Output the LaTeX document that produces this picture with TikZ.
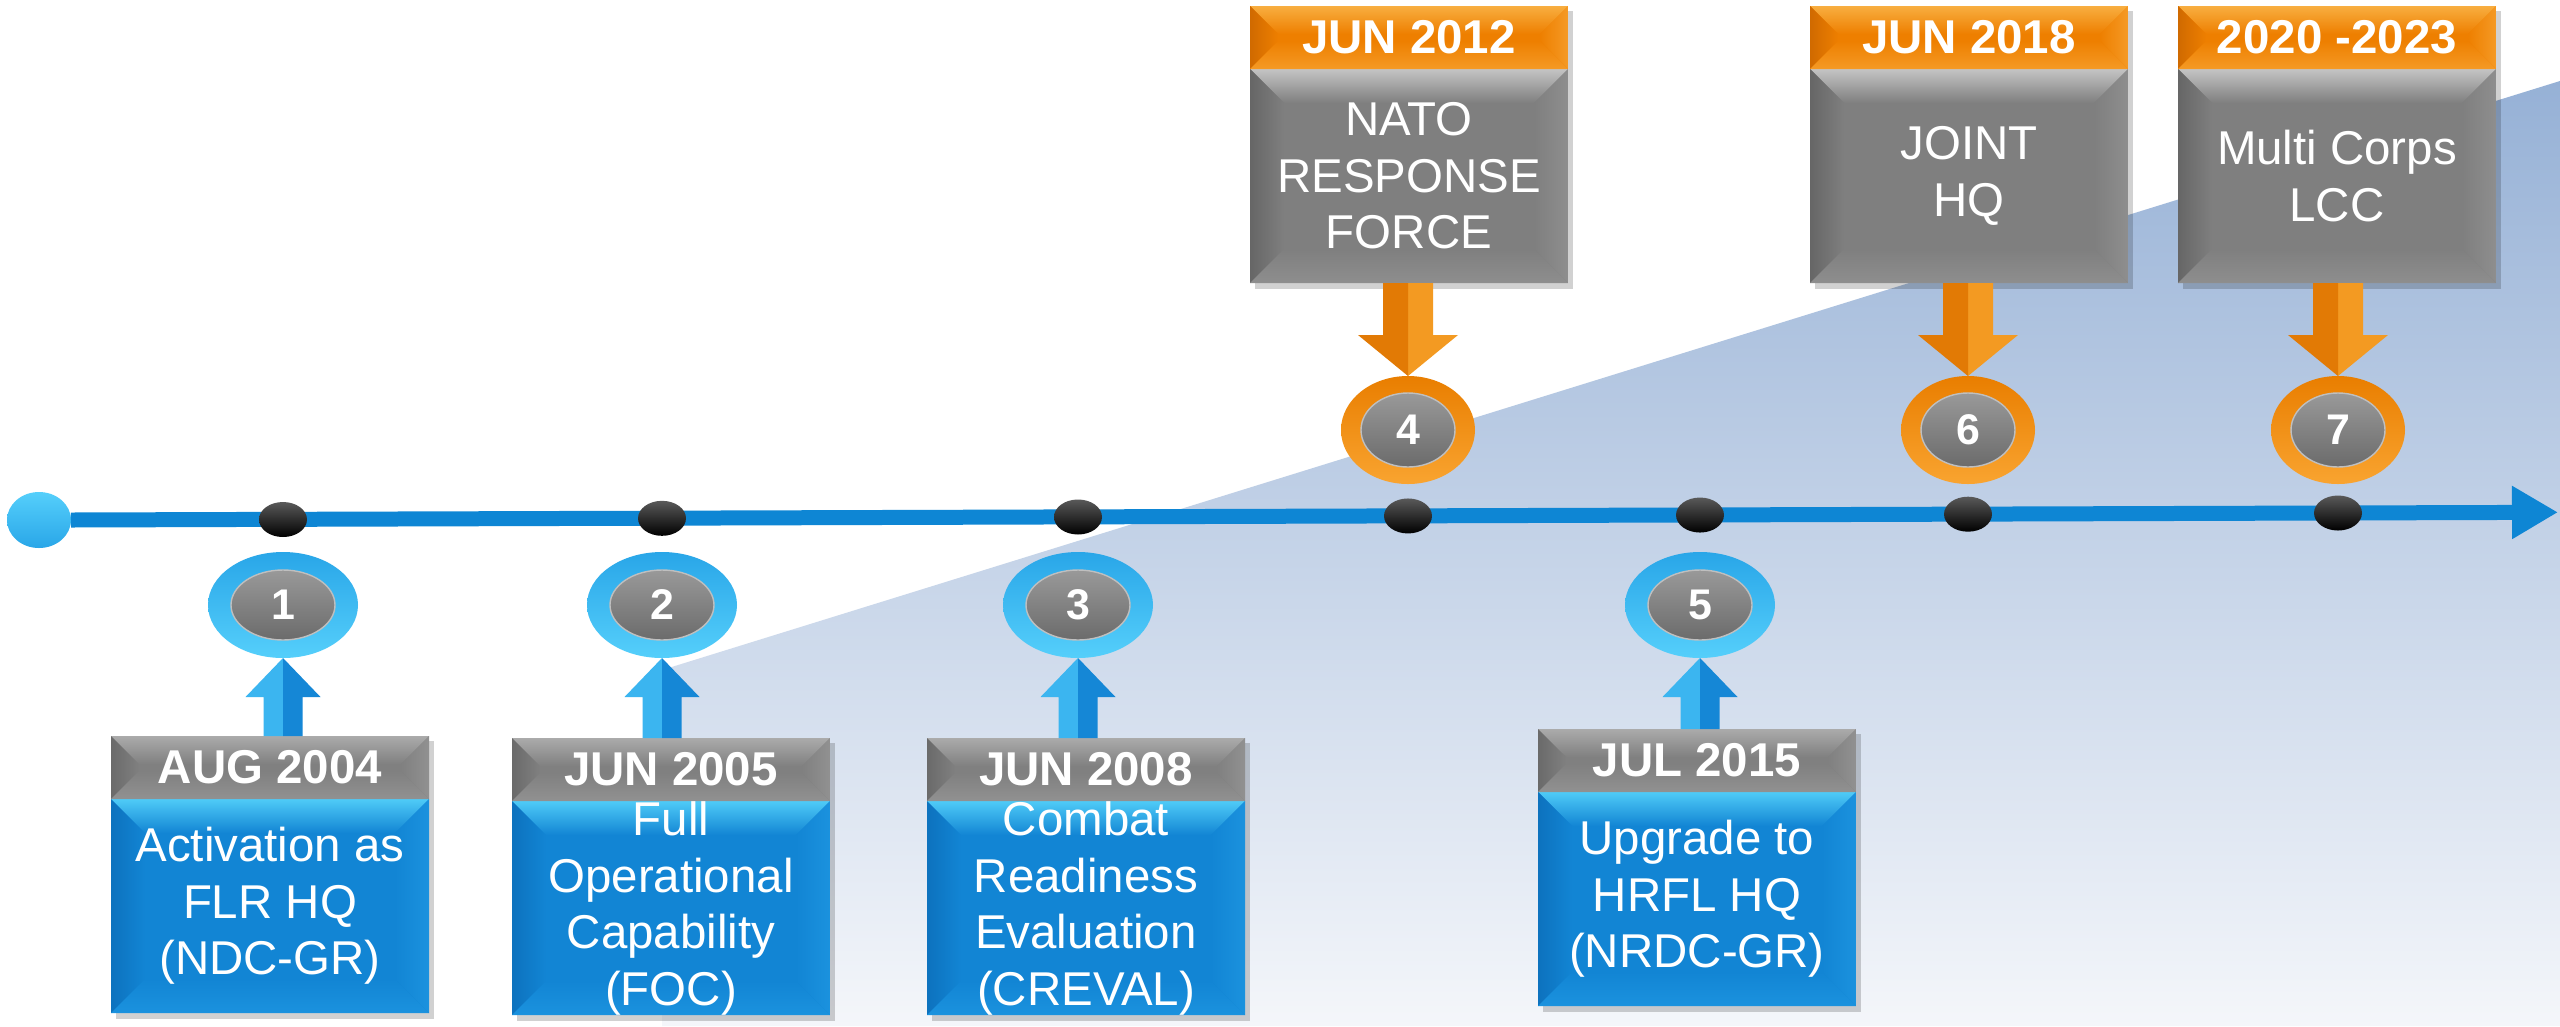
\documentclass[tikz,border=0pt]{standalone}
\usepackage{fontspec}
\setmainfont{Liberation Sans}
\usetikzlibrary{calc,positioning,shapes.geometric,arrows.meta,backgrounds}

\definecolor{lineblue}{HTML}{0E86D4}
\definecolor{wedgetop}{HTML}{96B1D6}
\definecolor{wedgebot}{HTML}{F4F6FA}
\definecolor{boxblue}{HTML}{1285D4}
\definecolor{boxbluetop}{HTML}{4FCBF7}
\definecolor{boxblueleft}{HTML}{0D72BE}
\definecolor{boxblueright}{HTML}{1B92DE}
\definecolor{boxgray}{HTML}{7F7F7F}
\definecolor{boxgraytop}{HTML}{C4C4C4}
\definecolor{boxgrayleft}{HTML}{666666}
\definecolor{boxgrayright}{HTML}{8E8E8E}
\definecolor{hdgray}{HTML}{808080}
\definecolor{hdgraytop}{HTML}{ABABAB}
\definecolor{hdgrayleft}{HTML}{6A6A6A}
\definecolor{hdgrayright}{HTML}{919191}
\definecolor{hdorange}{HTML}{EE7F00}
\definecolor{hdorangetop}{HTML}{F8AE40}
\definecolor{hdorangeleft}{HTML}{D06A00}
\definecolor{hdorangeright}{HTML}{F59A25}
\definecolor{ringbluetop}{HTML}{29A6E8}
\definecolor{ringbluebot}{HTML}{55CFFB}
\definecolor{ringorangetop}{HTML}{E97E00}
\definecolor{ringorangebot}{HTML}{F9A430}
\definecolor{arrowbluelight}{HTML}{3BB5F0}
\definecolor{arrowbluedark}{HTML}{1587D6}
\definecolor{arroworangelight}{HTML}{F39A22}
\definecolor{arroworangedark}{HTML}{E27A05}

\newcommand{\bodyfont}{\fontsize{13.5}{16.1}\selectfont}
\newcommand{\headfont}{\fontsize{13.5}{16.1}\selectfont\bfseries}
\newcommand{\numfont}{\fontsize{12.2}{14}\selectfont\bfseries}

% block arrow: from, to, shaft half, head half, head length, colour +90 side, colour -90 side
\newcommand{\blockarrow}[7]{%
\coordinate (ah) at ($(#2)!#5!(#1)$);
\fill[#6] (#1) -- ($(#1)!#3!90:(#2)$) -- ($(ah)!#3!90:(#2)$) -- ($(ah)!#4!90:(#2)$) -- (#2) -- (ah) -- cycle;
\fill[#7] (#1) -- ($(#1)!#3!-90:(#2)$) -- ($(ah)!#3!-90:(#2)$) -- ($(ah)!#4!-90:(#2)$) -- (#2) -- (ah) -- cycle;
}

\tikzset{
bevel/.style n args={5}{fill=#1,
  path picture={
  \coordinate (q1) at (path picture bounding box.north west);
  \coordinate (q2) at (path picture bounding box.north east);
  \coordinate (q3) at (path picture bounding box.south east);
  \coordinate (q4) at (path picture bounding box.south west);
  \shade[top color=#2, bottom color=#1] (q1) -- (q2) -- ($(q2)+(-#5,#5)$) -- ($(q1)+(#5,#5)$) -- cycle;
  \shade[left color=#3, right color=#1] (q1) -- ($(q1)+(#5,#5)$) -- ($(q4)+(#5,-#5)$) -- (q4) -- cycle;
  \shade[right color=#4, left color=#1] (q2) -- ($(q2)+(-#5,#5)$) -- ($(q3)+(-#5,-#5)$) -- (q3) -- cycle;
  \shade[bottom color=#4, top color=#1] (q4) -- ($(q4)+(#5,-#5)$) -- ($(q3)+(-#5,-#5)$) -- (q3) -- cycle;
  }},
boxcore/.style={inner xsep=0pt, inner ysep=-8pt, outer sep=0pt, minimum width=31.8mm, minimum height=21.4mm, text=white, align=center, font=\bodyfont},
headcore/.style={inner sep=0pt, outer sep=0pt, minimum width=31.8mm, minimum height=6.3mm, text=white, font=\headfont},
bodyblue/.style={rectangle, bevel={boxblue}{boxbluetop}{boxblueleft}{boxblueright}{34}, boxcore},
bodygray/.style={rectangle, bevel={boxgray}{boxgraytop}{boxgrayleft}{boxgrayright}{34}, boxcore},
headgray/.style={rectangle, bevel={hdgray}{hdgraytop}{hdgrayleft}{hdgrayright}{28}, headcore},
headorange/.style={rectangle, bevel={hdorange}{hdorangetop}{hdorangeleft}{hdorangeright}{28}, headcore},
ringblue/.style={ellipse, inner sep=0pt, outer sep=0pt, minimum width=15mm, minimum height=10.6mm, top color=ringbluetop, bottom color=ringbluebot},
ringorange/.style={ellipse, inner sep=0pt, outer sep=0pt, minimum width=13.4mm, minimum height=10.8mm, top color=ringorangetop, bottom color=ringorangebot},
numdisc/.style={ellipse, inner sep=0pt, top color=black!40, bottom color=black!58, draw=black!25, line width=0.4pt, text=white, font=\numfont},
numlow/.style={numdisc, minimum width=10.4mm, minimum height=7mm},
numhigh/.style={numdisc, minimum width=9.4mm, minimum height=7.4mm},
tick/.style={ellipse, inner sep=0pt, minimum width=4.8mm, minimum height=3.5mm, top color=black!65, bottom color=black},
startdot/.style={ellipse, inner sep=0pt, outer sep=0pt, minimum width=6.4mm, minimum height=5.6mm, top color=ringbluebot, bottom color=ringbluetop},
timeline/.style={draw=lineblue, line width=1.5mm, -{Triangle[length=4.6mm, width=5mm]}},
boxshadow/.style={fill=black, opacity=0.18}
}

\begin{document}
\begin{tikzpicture}[x=0.1mm, y=-0.1mm]
\useasboundingbox (0,0) rectangle (2560,1026);
\begin{scope}[on background layer]
\fill[white] (0,0) rectangle (2560,1026);
\shade[top color=wedgetop, bottom color=wedgebot] (662,670) -- (2560,81) -- (2560,1026) -- (662,1026) -- cycle;
\end{scope}

% time line
\node[startdot] (t0) at (39,520) {};
\coordinate (tend) at (2558,512.3);
\draw[timeline] (t0.east) -- (tend);
\foreach \n/\x in {1/283,2/662,3/1078,4/1408,5/1700,6/1968,7/2338}
\node[tick] (d\n) at (\x,{520.4-0.00316*\x}) {};

% rings
\foreach \n/\x in {1/283,2/662,3/1078,5/1700}{
\node[ringblue] (r\n) at (\x,605) {};
\node[numlow] (n\n) at (r\n) {\n};
}
\foreach \n/\x in {4/1408,6/1968,7/2338}{
\node[ringorange] (r\n) at (\x,430) {};
\node[numhigh] (n\n) at (r\n) {\n};
}

% boxes below the line
\node[bodyblue] (b1) at (270,906) {Activation as\\FLR HQ\\(NDC-GR)};
\node[headgray, above=0pt of b1] (h1) {AUG 2004};
\node[bodyblue] (b2) at (671,908) {Full\\Operational\\Capability\\(FOC)};
\node[headgray, above=0pt of b2] (h2) {JUN 2005};
\node[bodyblue] (b3) at (1086,908) {Combat\\Readiness\\Evaluation\\(CREVAL)};
\node[headgray, above=0pt of b3] (h3) {JUN 2008};
\node[bodyblue] (b5) at (1697,899) {Upgrade to\\HRFL HQ\\(NRDC-GR)};
\node[headgray, above=0pt of b5] (h5) {JUL 2015};

% boxes above the line
\node[bodygray] (b4) at (1409,176) {NATO\\RESPONSE\\FORCE};
\node[headorange, above=0pt of b4] (h4) {JUN 2012};
\node[bodygray] (b6) at (1969,176) {JOINT\\HQ};
\node[headorange, above=0pt of b6] (h6) {JUN 2018};
\node[bodygray] (b7) at (2337,176) {Multi Corps\\LCC};
\node[headorange, above=0pt of b7] (h7) {2020 -2023};

% arrows
\foreach \n in {1,2,3,5}{
\coordinate (a\n) at (r\n |- h\n.north);
\blockarrow{a\n}{r\n.south}{1.95mm}{3.75mm}{3.9mm}{arrowbluelight}{arrowbluedark}
}
\foreach \n in {4,6,7}{
\coordinate (a\n) at (r\n |- b\n.south);
\blockarrow{a\n}{r\n.north}{2.5mm}{5mm}{4.1mm}{arroworangelight}{arroworangedark}
}

\begin{scope}[on background layer]
\foreach \n in {1,...,7}
\fill[boxshadow] ($(h\n.north west)+(5,5)$) rectangle ($(b\n.south east)+(5,6)$);
\end{scope}
\end{tikzpicture}
\end{document}
